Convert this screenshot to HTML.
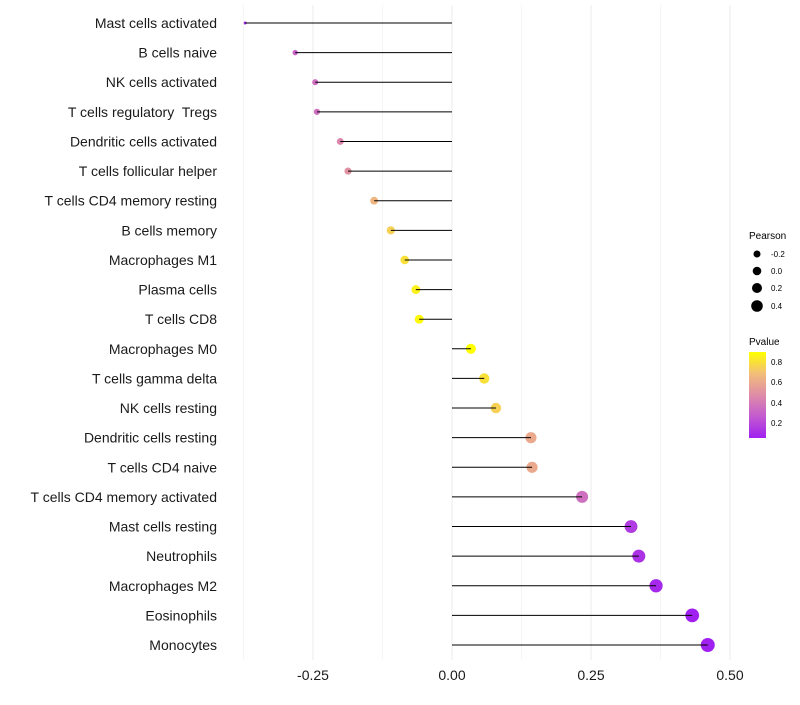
<!DOCTYPE html>
<html><head><meta charset="utf-8"><style>
body{margin:0;background:#fff;font-family:"Liberation Sans",sans-serif}
</style></head><body>
<svg id="chart" width="800" height="700" xmlns="http://www.w3.org/2000/svg" font-family="Liberation Sans, sans-serif">
<defs><linearGradient id="pg" x1="0" y1="1" x2="0" y2="0">
<stop offset="0" stop-color="#A020F0"/><stop offset="0.25" stop-color="#C35AD0"/><stop offset="0.5" stop-color="#DE8CA8"/><stop offset="0.75" stop-color="#F2BE78"/><stop offset="1" stop-color="#FFFF00"/></linearGradient></defs>
<g id="grid"></g>
<g id="dots"></g>
<g id="marks"></g>
<g id="axes"></g>
<g>
<text x="749" y="239" font-size="10">Pearson</text>
<circle cx="757" cy="254" r="3.5" fill="#000"/><text x="771" y="257" font-size="8">-0.2</text>
<circle cx="757" cy="271" r="4.3" fill="#000"/><text x="771" y="274" font-size="8">0.0</text>
<circle cx="757" cy="288" r="5" fill="#000"/><text x="771" y="291" font-size="8">0.2</text>
<circle cx="757" cy="306" r="5.8" fill="#000"/><text x="771" y="309" font-size="8">0.4</text>
</g>
<g>
<text x="749" y="345" font-size="10">Pvalue</text>
<rect x="749" y="352" width="17" height="86" fill="url(#pg)"/>
<text x="771" y="365" font-size="8">0.8</text><text x="771" y="385" font-size="8">0.6</text>
<text x="771" y="406" font-size="8">0.4</text><text x="771" y="426" font-size="8">0.2</text>
</g>
</svg>
<script>
const categories=["Mast cells activated","B cells naive","NK cells activated","T cells regulatory  Tregs","Dendritic cells activated","T cells follicular helper","T cells CD4 memory resting","B cells memory","Macrophages M1","Plasma cells","T cells CD8","Macrophages M0","T cells gamma delta","NK cells resting","Dendritic cells resting","T cells CD4 naive","T cells CD4 memory activated","Mast cells resting","Neutrophils","Macrophages M2","Eosinophils","Monocytes"];
const pearson=[-0.372,-0.282,-0.246,-0.243,-0.201,-0.187,-0.140,-0.110,-0.085,-0.065,-0.059,0.034,0.058,0.079,0.142,0.144,0.234,0.322,0.336,0.367,0.432,0.460];
const pvalue=[0.08,0.3,0.35,0.35,0.45,0.5,0.65,0.75,0.8,0.85,0.88,0.9,0.8,0.75,0.6,0.6,0.35,0.15,0.12,0.08,0.03,0.02];
const xTicks=[-0.25,0,0.25,0.5];
const xTickLabels=["-0.25","0.00","0.25","0.50"];
const NS="http://www.w3.org/2000/svg";
const x=v=>452+v*556;
const y=i=>23+i*(622/21);
const rad=v=>Math.sqrt(Math.max(2.25,2.25+(v+0.372)*56.2));
const stops=[[0.05,[160,32,240]],[0.26,[195,90,208]],[0.475,[222,140,168]],[0.69,[242,190,120]],[0.9,[255,255,0]]];
function col(p){p=Math.max(0.05,Math.min(0.9,p));for(let k=0;k<stops.length-1;k++){const a=stops[k],b=stops[k+1];if(p<=b[0]){const t=(p-a[0])/(b[0]-a[0]);return "rgb("+a[1].map((c,j)=>Math.round(c+(b[1][j]-c)*t)).join(",")+")";}}return "rgb(255,255,0)";}
function mk(tag,attrs,parent){const e=document.createElementNS(NS,tag);for(const k in attrs)e.setAttribute(k,attrs[k]);parent.appendChild(e);return e;}
const grid=document.getElementById('grid'),marks=document.getElementById('marks'),dots=document.getElementById('dots'),axes=document.getElementById('axes');
for(let v=-0.375;v<=0.5;v+=0.125){const l=mk('line',{x1:x(v),x2:x(v),y1:5,y2:660,stroke:'#ebebeb','stroke-width':Math.abs(v*8%2)<0.01?1:0.5},grid);

}
xTicks.forEach((v,i)=>{const t=mk('text',{x:x(v),y:680,'font-size':14,'text-anchor':'middle',fill:'#1a1a1a'},axes);t.textContent=xTickLabels[i];

});
categories.forEach((c,i)=>{const t=mk('text',{x:217,y:y(i)+5,'font-size':14,'text-anchor':'end',fill:'#1a1a1a','xml:space':'preserve',style:'white-space:pre'},axes);t.textContent=c;


const s=mk('line',{x1:x(0),x2:x(pearson[i]),y1:y(i),y2:y(i),stroke:'#000','stroke-width':1},marks);


const d=mk('circle',{cx:x(pearson[i]),cy:y(i),r:rad(pearson[i]),fill:col(pvalue[i])},dots);

});
</script>
</body></html>
